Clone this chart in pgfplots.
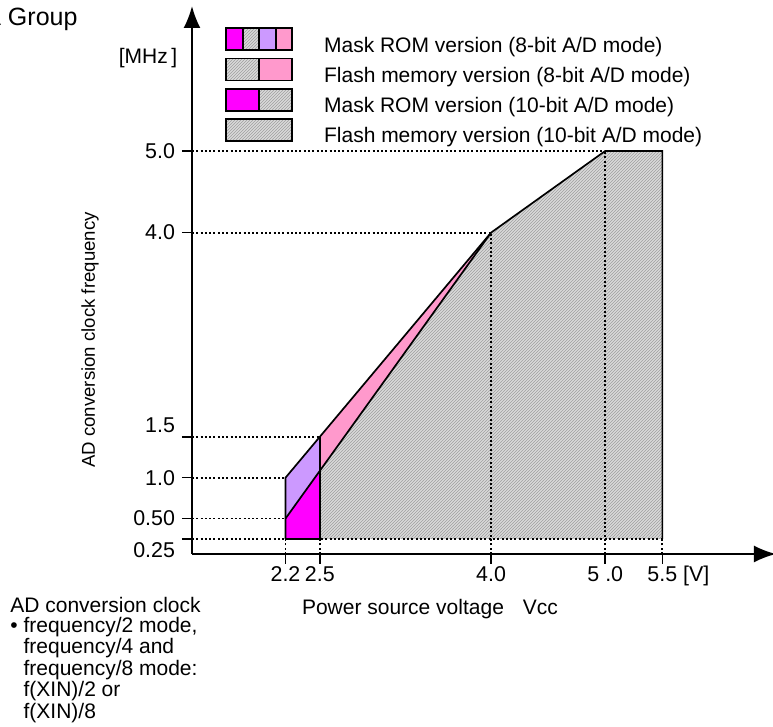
\documentclass[border=0pt]{standalone}
\usepackage{fontspec}
\setmainfont{Liberation Sans}
\usepackage{pgfplots}
\pgfplotsset{compat=1.18}
\usetikzlibrary{patterns,arrows.meta}

% fine diagonal hatching for the flash memory area
\pgfdeclarepatternformonly{fine ne}{\pgfqpoint{-0.5pt}{-0.5pt}}{\pgfqpoint{2pt}{2pt}}{\pgfqpoint{1.5pt}{1.5pt}}{%
  \pgfsetlinewidth{0.3pt}%
  \pgfpathmoveto{\pgfqpoint{0pt}{0pt}}%
  \pgfpathlineto{\pgfqpoint{1.55pt}{1.55pt}}%
  \pgfusepath{stroke}}

\definecolor{romA}{RGB}{255,0,255}
\definecolor{lav}{RGB}{204,153,255}
\definecolor{pinkA}{RGB}{255,153,204}

\tikzset{
  hatch/.style={fill=black!14, postaction={pattern=fine ne, pattern color=black!38}},
  dots/.style={line width=0.9pt, dash pattern=on 1pt off 1.15pt},
  edge/.style={line width=0.85pt},
}

\begin{document}
\begin{tikzpicture}
\useasboundingbox (-96pt,277pt) rectangle (290.5pt,-86.5pt);
\begin{axis}[
  scale only axis, width=292pt, height=274pt,
  xmin=1.381, xmax=6.495, ymin=0.066, ymax=6.774,
  axis lines=left,
  axis line style={line width=1pt, -{Latex[length=11pt,width=8.5pt]}},
  clip=false,
  tick align=outside, major tick length=5pt,
  tick style={line width=0.8pt, black},
  xtick={2.2,2.5,4,5,5.5},
  xticklabels={2.2,2.5,4.0,5 .0,5.5\rlap{ [V]}},
  xticklabel style={yshift=2.5pt},
  ytick={0.25,0.5,1,1.5,4,5},
  yticklabels={0.25,0.50,1.0,1.5,4.0,5.0},
  % 0.25 sits a little below its tick and 1.5 a little above, as in the original
  yticklabel style={yshift={(\ticknum==0)*(-5.5pt)+(\ticknum==3)*(6pt)}},
  /pgf/number format/assume math mode=true,
  ticklabel style={font=\fontsize{10.7}{12}\selectfont},
  xlabel={Power source voltage\hspace{0.9em}Vcc},
  xlabel style={font=\fontsize{10.5}{12}\selectfont, at={(axis description cs:0.4075,-0.1005)}, anchor=center},
  ylabel={AD conversion clock frequency},
  ylabel style={font=\fontsize{9.3}{11}\selectfont, at={(axis description cs:-0.1747,0.3905)}, anchor=center},
  legend style={draw=none, fill=none, at={(axis description cs:0.0565,0.9617)}, anchor=north west,
    inner sep=0pt, row sep=0.4pt, font=\fontsize{10.5}{12}\selectfont,
    nodes={inner sep=0pt, text height=7.6pt, text depth=2.4pt}},
  legend cell align=left,
  /tikz/every odd column/.append style={column sep=15.5pt},
]
% flash memory area (hatched)
\addplot[hatch, draw=none, forget plot] coordinates {(2.5,0.25) (2.5,1.0833) (4,4) (5,5) (5.5,5) (5.5,0.25)} -- cycle;
% mask ROM 10-bit area
\addplot[fill=romA, draw=none, forget plot] coordinates {(2.2,0.25) (2.5,0.25) (2.5,1.0833) (2.2,0.5)} -- cycle;
% mask ROM 8-bit area
\addplot[fill=lav, draw=none, forget plot] coordinates {(2.2,0.5) (2.5,1.0833) (2.5,1.5) (2.2,1.0)} -- cycle;
% flash 8-bit area
\addplot[fill=pinkA, draw=none, forget plot] coordinates {(2.5,1.0833) (4,4) (2.5,1.5)} -- cycle;

% dotted guide lines
\addplot[dots, forget plot] coordinates {(1.381,0.25) (5.5,0.25)};
\addplot[dots, forget plot] coordinates {(1.381,0.5) (2.2,0.5)};
\addplot[dots, forget plot] coordinates {(1.381,1.0) (2.2,1.0)};
\addplot[dots, forget plot] coordinates {(1.381,1.5) (2.5,1.5)};
\addplot[dots, forget plot] coordinates {(1.381,4) (4,4)};
\addplot[dots, forget plot] coordinates {(1.381,5) (5,5)};
\addplot[dots, forget plot] coordinates {(2.2,0.066) (2.2,0.25)};
\addplot[dots, forget plot] coordinates {(2.5,0.066) (2.5,0.25)};
\addplot[dots, forget plot] coordinates {(4,0.066) (4,4)};
\addplot[dots, forget plot] coordinates {(5,0.066) (5,5)};
\addplot[dots, forget plot] coordinates {(5.5,0.066) (5.5,0.25)};

% solid outlines
\addplot[edge, forget plot] coordinates {(2.2,0.25) (2.5,0.25)};
\addplot[edge, forget plot] coordinates {(2.2,0.25) (2.2,1.0) (4,4)};
\addplot[edge, forget plot] coordinates {(2.5,0.25) (2.5,1.5)};
\addplot[edge, forget plot] coordinates {(2.2,0.5) (4,4) (5,5) (5.5,5) (5.5,0.25)};

% legend swatches
\addlegendimage{legend image code/.code={
  \fill[romA] (0pt,-1.7pt) rectangle (8.25pt,9.3pt);
  \path[hatch] (8.25pt,-1.7pt) rectangle (16.5pt,9.3pt);
  \fill[lav] (16.5pt,-1.7pt) rectangle (24.75pt,9.3pt);
  \fill[pinkA] (24.75pt,-1.7pt) rectangle (33pt,9.3pt);
  \draw[edge] (8.25pt,-1.7pt) -- (8.25pt,9.3pt) (16.5pt,-1.7pt) -- (16.5pt,9.3pt) (24.75pt,-1.7pt) -- (24.75pt,9.3pt);
  \draw[edge] (0pt,-1.7pt) rectangle (33pt,9.3pt);}}
\addlegendimage{legend image code/.code={
  \path[hatch] (0pt,-1.7pt) rectangle (16.5pt,9.3pt);
  \fill[pinkA] (16.5pt,-1.7pt) rectangle (33pt,9.3pt);
  \draw[edge] (16.5pt,-1.7pt) -- (16.5pt,9.3pt);
  \draw[edge] (0pt,-1.7pt) rectangle (33pt,9.3pt);}}
\addlegendimage{legend image code/.code={
  \fill[romA] (0pt,-1.7pt) rectangle (16.5pt,9.3pt);
  \path[hatch] (16.5pt,-1.7pt) rectangle (33pt,9.3pt);
  \draw[edge] (16.5pt,-1.7pt) -- (16.5pt,9.3pt);
  \draw[edge] (0pt,-1.7pt) rectangle (33pt,9.3pt);}}
\addlegendimage{legend image code/.code={
  \path[hatch] (0pt,-1.7pt) rectangle (33pt,9.3pt);
  \draw[edge] (0pt,-1.7pt) rectangle (33pt,9.3pt);}}
\legend{Mask ROM version (8-bit A/D mode),
  Flash memory version (8-bit A/D mode),
  Mask ROM version (10-bit A/D mode),
  Flash memory version (10-bit A/D mode)}

\node[font=\fontsize{10.5}{12}\selectfont, anchor=center] at (axis description cs:-0.0753,0.905) {[MHz\,]};
\end{axis}

\begin{scope}[x=0.5pt, y=-0.5pt, shift={(-192,-554)}]
  \node[font=\fontsize{12.5}{14}\selectfont, anchor=base west, inner sep=0pt] at (-16,25.5) {A Group};
  \node[font=\fontsize{10.5}{9.75}\selectfont, anchor=north west, inner sep=0pt, align=left] at (10,597)
    {AD conversion clock\\
     • frequency/2 mode,\\
     \hphantom{•} frequency/4 and\\
     \hphantom{•} frequency/8 mode:\\
     \hphantom{•} f(XIN)/2 or\\
     \hphantom{•} f(XIN)/8};
\end{scope}
\end{tikzpicture}
\end{document}
